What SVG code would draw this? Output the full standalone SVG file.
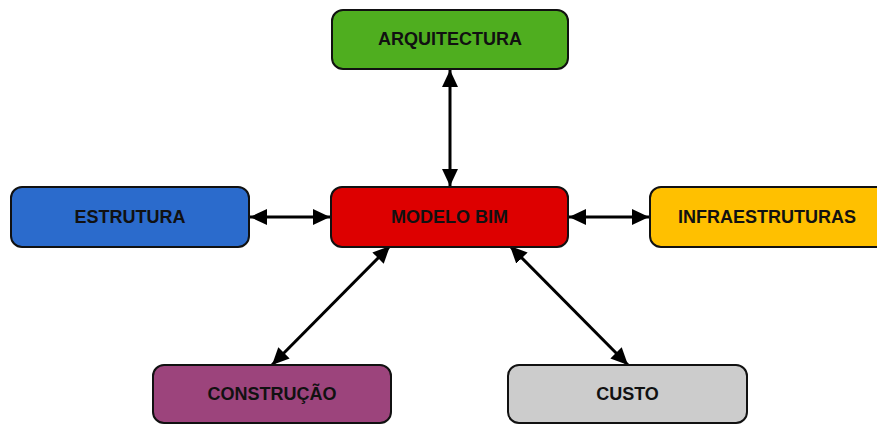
<svg xmlns="http://www.w3.org/2000/svg" width="877" height="425" viewBox="0 0 877 425">
<defs>
<style>
.box{stroke:#111;stroke-width:2}
.lbl{font-family:"Liberation Sans",Arial,sans-serif;font-weight:bold;font-size:18px;fill:#111;text-anchor:middle;dominant-baseline:central}
.con{stroke:#000;stroke-width:3;fill:none;marker-start:url(#ah);marker-end:url(#ah)}
</style>
<marker id="ah" viewBox="0 0 17 16" refX="17" refY="8" markerWidth="17" markerHeight="16" markerUnits="userSpaceOnUse" orient="auto-start-reverse">
<path d="M0,0 L17,8 L0,16 Z" fill="#000"/>
</marker>
</defs>
<rect width="877" height="425" fill="#fff"/>
<g id="connectors">
<line class="con" x1="450" y1="70" x2="450" y2="186"/>
<line class="con" x1="250" y1="217" x2="330" y2="217"/>
<line class="con" x1="569" y1="217" x2="649" y2="217"/>
<line class="con" x1="390" y1="246" x2="272" y2="365"/>
<line class="con" x1="510" y1="246" x2="628" y2="365"/>
</g>
<g id="arquitectura">
<rect class="box" x="332" y="10" width="236" height="59" rx="11" fill="#4fae1f"/>
<text class="lbl" x="450" y="39">ARQUITECTURA</text>
</g>
<g id="modelo-bim">
<rect class="box" x="331" y="187" width="237" height="60" rx="11" fill="#dd0000"/>
<text class="lbl" x="449.5" y="217">MODELO BIM</text>
</g>
<g id="estrutura">
<rect class="box" x="11" y="187" width="238" height="60" rx="11" fill="#2b6bcc"/>
<text class="lbl" x="130" y="217">ESTRUTURA</text>
</g>
<g id="infraestruturas">
<rect class="box" x="650" y="187" width="237" height="60" rx="11" fill="#ffc000"/>
<text class="lbl" x="767" y="217">INFRAESTRUTURAS</text>
</g>
<g id="construcao">
<rect class="box" x="153" y="365" width="238" height="58" rx="11" fill="#9c447c"/>
<text class="lbl" x="272" y="394">CONSTRUÇÃO</text>
</g>
<g id="custo">
<rect class="box" x="508" y="365" width="239" height="58" rx="11" fill="#cccccc"/>
<text class="lbl" x="627.5" y="394">CUSTO</text>
</g>
</svg>
